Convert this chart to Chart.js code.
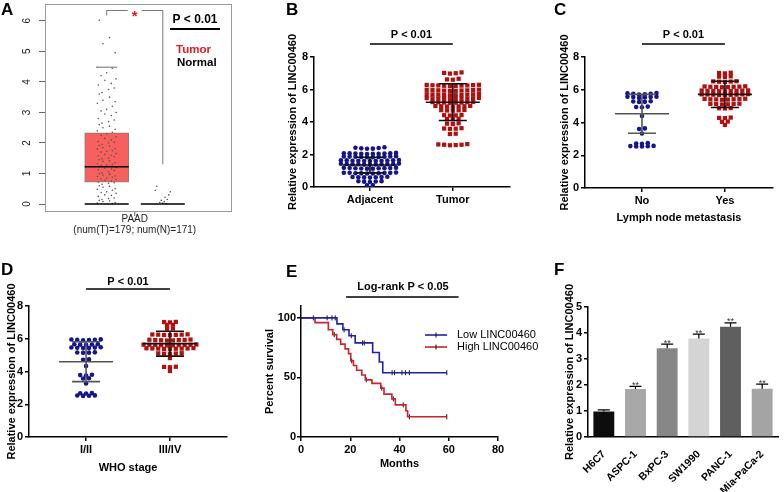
<!DOCTYPE html>
<html>
<head>
<meta charset="utf-8">
<script src="https://cdn.jsdelivr.net/npm/chart.js"></script>
<style>
  body { margin: 0; background: #fff; }
  #fig { position: relative; width: 784px; height: 492px; overflow: hidden; font-family: "Liberation Sans", Arial, sans-serif; }
  .panel { position: absolute; }
  .tag { position: absolute; font-weight: bold; font-size: 17px; line-height: 1; }
</style>
</head>
<body>
<div id="fig">
  <div class="panel" style="left:0;top:0;width:260px;height:240px"><canvas id="chartA"></canvas></div>
  <div class="panel" style="left:260px;top:0;width:260px;height:240px"><canvas id="chartB"></canvas></div>
  <div class="panel" style="left:520px;top:0;width:264px;height:240px"><canvas id="chartC"></canvas></div>
  <div class="panel" style="left:0;top:240px;width:260px;height:252px"><canvas id="chartD"></canvas></div>
  <div class="panel" style="left:260px;top:240px;width:300px;height:252px"><canvas id="chartE"></canvas></div>
  <div class="panel" style="left:520px;top:240px;width:264px;height:252px"><canvas id="chartF"></canvas></div>
  <div class="tag" style="left:1px;top:1px">A</div>
  <div class="tag" style="left:286px;top:1px">B</div>
  <div class="tag" style="left:554px;top:1px">C</div>
  <div class="tag" style="left:1px;top:261px">D</div>
  <div class="tag" style="left:286px;top:263px">E</div>
  <div class="tag" style="left:554px;top:261px">F</div>
</div>
<script>
// ---------- data ----------
// A: GEPIA box plot (PAAD)
const boxGroups = ['Tumor', 'Normal'];
const boxQ1 = [0.72, 0];
const boxMedian = [1.22, 0];
const boxQ3 = [2.33, 0];
const boxWhiskerHigh = [4.48, 0];
const boxWhiskerLow = [0, 0];
const tumorDots = [6.02, 5.45, 5.25, 4.95, 4.48, 4.45, 4.3, 4.2, 4.1, 4.05, 3.95, 3.9, 3.8, 3.75, 3.65,
  3.6, 3.5, 3.4, 3.35, 3.3, 3.2, 3.1, 3.05, 3.0, 2.95, 2.9, 2.8, 2.75, 2.7, 2.65, 2.6, 2.55, 2.5,
  2.45, 2.4, 2.35, 2.3, 2.25, 2.2, 2.15, 2.1, 2.05, 2.02, 2.0, 1.95, 1.92, 1.9, 1.85, 1.82, 1.8,
  1.75, 1.72, 1.7, 1.65, 1.62, 1.6, 1.58, 1.55, 1.5, 1.48, 1.45, 1.42, 1.4, 1.35, 1.32, 1.3, 1.28,
  1.25, 1.2, 1.18, 1.15, 1.12, 1.1, 1.05, 1.02, 1.0, 0.98, 0.95, 0.92, 0.9, 0.88, 0.85, 0.82, 0.8,
  0.78, 0.75, 0.72, 0.7, 0.68, 0.65, 0.6, 0.58, 0.55, 0.5, 0.48, 0.45, 0.4, 0.38, 0.35, 0.3, 0.28,
  0.25, 0.2, 0.18, 0.15, 0.12, 0.1, 0.08, 0.05, 0.03, 0.02];
const normalDots = [0.58, 0.45, 0.4, 0.3, 0.22, 0.15, 0.12, 0.08, 0.05, 0.03, 0.02];

// B: tissue
const namesB = ['Adjacent', 'Tumor'];
const adjacentB = [2.45, 2.42, 2.38, 2.36, 2.35, 2.4,
  2.1, 2.08, 2.06, 2.05, 2.04, 2.06, 2.08, 2.03, 2.07, 2.05,
  1.88, 1.86, 1.85, 1.84, 1.86, 1.88, 1.9, 1.85, 1.87, 1.83,
  1.64, 1.62, 1.6, 1.61, 1.63, 1.65, 1.6, 1.62, 1.64, 1.66, 1.61,
  1.42, 1.4, 1.38, 1.39, 1.41, 1.43, 1.4, 1.38, 1.42, 1.44, 1.4,
  1.17, 1.15, 1.13, 1.14, 1.16, 1.18, 1.15, 1.13, 1.17, 1.19,
  0.87, 0.85, 0.83, 0.84, 0.86, 0.88, 0.85, 0.83, 0.87, 0.89,
  0.62, 0.6, 0.58, 0.59, 0.61, 0.63, 0.6,
  0.35, 0.33, 0.31, 0.34, 0.36,
  0.12, 0.1];
const tumorB = [7.05, 7.02, 7.0, 6.98,
  6.66, 6.62, 6.6,
  6.28, 6.26, 6.25, 6.24, 6.22, 6.27, 6.25, 6.23, 6.29, 6.2,
  5.98, 5.96, 5.95, 5.94, 5.93, 5.97, 5.95, 5.92, 5.99, 5.9,
  5.7, 5.68, 5.67, 5.66, 5.69, 5.71, 5.65, 5.68, 5.72, 5.64,
  5.46, 5.44, 5.43, 5.42, 5.45, 5.47, 5.41, 5.44, 5.48, 5.4,
  5.22, 5.2, 5.19, 5.21, 5.23, 5.18, 5.24, 5.2,
  4.98, 4.96, 4.95, 4.97, 4.99, 4.94, 4.97,
  4.73, 4.71, 4.72, 4.74, 4.7,
  4.43, 4.41, 4.42, 4.4,
  4.18, 4.17, 4.2,
  3.9, 3.88, 3.92,
  3.6, 3.58, 3.62, 3.59,
  3.28, 3.26,
  2.62, 2.6, 2.58, 2.57, 2.6, 2.64];
const meansB = [1.35, 5.22];
const sdsB = [0.48, 1.13];

// C: lymph node metastasis
const namesC = ['No', 'Yes'];
const noC = [5.8, 5.78, 5.76, 5.75, 5.72, 5.7,
  5.58, 5.56, 5.55, 5.53, 5.5, 5.57,
  5.3, 5.28, 5.26, 5.25,
  4.97, 4.95, 4.93,
  4.4,
  3.64, 3.6,
  3.33,
  2.74, 2.72, 2.7,
  2.57, 2.55, 2.54, 2.56, 2.53];
const yesC = [7.04, 7.02, 7.0,
  6.82, 6.8, 6.78,
  6.52, 6.5, 6.48, 6.51, 6.49,
  6.2, 6.18, 6.17, 6.19, 6.16, 6.21, 6.18, 6.15,
  5.95, 5.93, 5.92, 5.94, 5.91, 5.96, 5.93, 5.9, 5.95,
  5.72, 5.7, 5.69, 5.71, 5.68, 5.73, 5.7, 5.67, 5.72,
  5.44, 5.42, 5.41, 5.43, 5.4, 5.45, 5.42, 5.39,
  5.14, 5.12, 5.11, 5.13, 5.1, 5.15,
  4.88, 4.86, 4.87,
  4.3, 4.28, 4.27,
  4.06, 4.04,
  3.85];
const meansC = [4.53, 5.72];
const sdsC = [1.19, 0.8];

// D: WHO stage
const namesD = ['I/II', 'III/IV'];
const earlyD = [5.95, 5.94, 5.93, 5.92, 5.96, 5.9,
  5.66, 5.65, 5.64, 5.67, 5.63,
  5.47, 5.46, 5.45, 5.48, 5.44, 5.43,
  5.16, 5.15, 5.14, 5.17,
  4.74, 4.72,
  4.33,
  3.8, 3.78, 3.76,
  3.59, 3.57,
  3.27,
  2.68, 2.67, 2.66,
  2.53, 2.52, 2.51, 2.54];
const lateD = [7.03, 7.02, 7.0,
  6.86, 6.85,
  6.63, 6.62,
  6.26, 6.25, 6.24, 6.27, 6.23, 6.25, 6.22,
  5.93, 5.92, 5.91, 5.94, 5.9, 5.95, 5.92, 5.89,
  5.63, 5.62, 5.61, 5.64, 5.6, 5.65, 5.62, 5.59, 5.63, 5.61,
  5.41, 5.4, 5.39, 5.42, 5.38, 5.43, 5.4, 5.37, 5.41,
  5.11, 5.1, 5.09, 5.12, 5.08,
  4.82,
  4.29, 4.28, 4.26,
  4.03];
const meansD = [4.6, 5.7];
const sdsD = [1.22, 0.76];

// E: Kaplan-Meier
const lowTimes = [0, 14.6, 17, 19.5, 22, 29.1, 31.8, 33.2, 59.2];
const lowSurv = [100, 95, 90, 85, 79, 71, 63, 54, 54];
const lowCensor = [5, 10.6, 12.6, 13.9, 17.5, 20.4, 25, 25.7, 37, 38, 41, 42.4, 44, 59.2];
const highTimes = [0, 5.7, 11.1, 12.9, 14.5, 16.1, 17.9, 19.3, 20.2, 21.3, 22.6, 24.7, 26.1, 28.8,
  32.4, 33.7, 36.9, 38.3, 42.6, 43.3, 59.2];
const highSurv = [100, 96, 90, 86, 82, 78, 74, 70, 64, 60, 56, 52, 48, 45, 41, 36, 32, 27, 22, 17, 17];
const highCensor = [13.5, 20.6, 26.5, 32.8, 37.5, 41.5, 44, 59.2];

// F: cell lines
const cellLines = ['H6C7', 'ASPC-1', 'BxPC-3', 'SW1990', 'PANC-1', 'Mia-PaCa-2'];
const cellValues = [0.98, 1.85, 3.41, 3.79, 4.24, 1.86];
const cellErrors = [0.06, 0.1, 0.16, 0.17, 0.15, 0.17];

// ---------- defaults ----------
Chart.defaults.font.family = "'Liberation Sans', Arial, sans-serif";
Chart.defaults.font.size = 11;
Chart.defaults.font.weight = 'bold';
Chart.defaults.color = '#000';
Chart.defaults.animation = false;
Chart.defaults.maintainAspectRatio = false;
Chart.defaults.plugins.legend.display = false;
Chart.defaults.plugins.tooltip.enabled = false;

const YTITLE = 'Relative expression of LINC00460';
const GROUP_X = [1, 2];

// fixed axis sizes so the plot area lands where it is in the figure
function fitY(w) { return s => { s.width = w; s.paddingTop = 0; s.paddingBottom = 0; }; }
function fitX(h) { return s => { s.height = h; s.paddingLeft = 0; s.paddingRight = 0; }; }

function seg(ctx, x1, y1, x2, y2) { ctx.moveTo(x1, y1); ctx.lineTo(x2, y2); }

// points of one group arranged in rows (lowest value of a row in the middle)
function swarm(values, cx, dx) {
  const rows = [];
  [...values].sort((a, b) => b - a).forEach(v => {
    const row = rows[rows.length - 1];
    if (row && row[0] - v <= 0.12) row.push(v); else rows.push([v]);
  });
  const pts = [];
  rows.forEach(row => {
    const n = row.length;
    const slots = row.map((_, i) => (i - (n - 1) / 2)).sort((a, b) => Math.abs(a) - Math.abs(b));
    [...row].sort((a, b) => a - b).forEach((v, i) => pts.push({ x: cx + slots[i] * dx, y: v }));
  });
  return pts;
}

function axisGrid() {
  return { drawOnChartArea: false, tickLength: 4, color: '#000', lineWidth: 1.5 };
}

// ---------- A ----------
const jitter = [-0.04, 0.015, -0.02, 0.045, -0.05, 0.03, 0.0, -0.03, 0.05, -0.01, 0.025, -0.045, 0.04, 0.01, -0.025];
const boxX = [0.33, 0.63];
const PAAD_X = 0.48;

new Chart(document.getElementById('chartA'), {
  type: 'scatter',
  data: {
    datasets: [
      { data: tumorDots.map((v, i) => ({ x: boxX[0] + jitter[i % jitter.length], y: v })),
        pointRadius: 0.8, backgroundColor: '#555', borderWidth: 0, order: 0 },
      { data: normalDots.map((v, i) => ({ x: boxX[1] + jitter[(i * 4) % jitter.length] * 0.8, y: v })),
        pointRadius: 0.8, backgroundColor: '#555', borderWidth: 0, order: 0 },
      { type: 'bar', data: boxGroups.map((g, i) => ({ x: boxX[i], y: [boxQ1[i], boxQ3[i]] })),
        backgroundColor: '#f8605d', borderColor: '#808080', borderWidth: 1, borderSkipped: false,
        barThickness: 44, order: 1 }
    ]
  },
  options: {
    layout: { padding: { left: 0, top: 2, right: 28, bottom: 0 } },
    scales: {
      x: { type: 'linear', min: 0, max: 1, offset: false, afterFit: fitX(28),
        afterBuildTicks: s => { s.ticks = [{ value: PAAD_X }]; },
        ticks: { callback: () => ['PAAD', '(num(T)=179; num(N)=171)'], padding: -2, color: '#222',
          font: { size: 10, weight: 'normal', lineHeight: 1.1 } },
        grid: { display: false, drawTicks: true, tickLength: 4, offset: false }, border: { display: false } },
      y: { type: 'linear', min: -0.26, max: 6.55, afterFit: fitY(45),
        afterBuildTicks: s => { s.ticks = [0, 1, 2, 3, 4, 5, 6].map(v => ({ value: v })); },
        ticks: { minRotation: 90, maxRotation: 90, crossAlign: 'center', padding: 9, color: '#222',
          font: { size: 10, weight: 'normal' } },
        grid: { drawOnChartArea: false, tickLength: 6, color: '#666' }, border: { display: false } }
    }
  },
  plugins: [{
    id: 'boxExtras',
    afterDatasetsDraw(chart) {
      const { ctx, chartArea: a, scales: { x, y } } = chart;
      ctx.save();
      ctx.strokeStyle = '#9a9a9a'; ctx.lineWidth = 1;
      ctx.strokeRect(a.left + 0.5, a.top + 0.5, a.width - 1, a.height - 1);
      // tick under the group label
      const xt = x.getPixelForValue(PAAD_X);
      ctx.strokeStyle = '#666';
      ctx.beginPath(); seg(ctx, xt, a.bottom, xt, a.bottom + 4); ctx.stroke();
      boxGroups.forEach((g, i) => {
        const cx = x.getPixelForValue(boxX[i]);
        ctx.strokeStyle = '#000'; ctx.lineWidth = 1.6;
        ctx.beginPath();
        seg(ctx, cx - 22, y.getPixelForValue(boxMedian[i]), cx + 22, y.getPixelForValue(boxMedian[i]));
        seg(ctx, cx - 22, y.getPixelForValue(boxWhiskerLow[i]), cx + 22, y.getPixelForValue(boxWhiskerLow[i]));
        ctx.stroke();
        if (boxWhiskerHigh[i] > boxQ3[i]) {
          ctx.strokeStyle = '#888'; ctx.lineWidth = 1.2;
          ctx.beginPath();
          seg(ctx, cx - 10.5, y.getPixelForValue(boxWhiskerHigh[i]), cx + 10.5, y.getPixelForValue(boxWhiskerHigh[i]));
          ctx.stroke();
        }
      });
      // significance bracket
      const x1 = x.getPixelForValue(boxX[0]), x2 = x.getPixelForValue(boxX[1]);
      const yb = a.top + 6.5;
      ctx.strokeStyle = '#777'; ctx.lineWidth = 1;
      ctx.beginPath();
      seg(ctx, x1, yb + 5, x1, yb); ctx.lineTo(xt - 7, yb);
      seg(ctx, xt + 7, yb, x2, yb); ctx.lineTo(x2, y.getPixelForValue(1.3));
      ctx.stroke();
      ctx.fillStyle = '#e8191c'; ctx.font = 'bold 15px "Liberation Sans", Arial';
      ctx.textAlign = 'center'; ctx.textBaseline = 'alphabetic';
      ctx.fillText('*', xt, yb + 10);
      // p value and group key
      ctx.fillStyle = '#000'; ctx.font = 'bold 12px "Liberation Sans", Arial';
      ctx.textBaseline = 'middle';
      ctx.fillText('P < 0.01', 195, 20);
      ctx.strokeStyle = '#000'; ctx.lineWidth = 2;
      ctx.beginPath(); seg(ctx, 170, 29, 220, 29); ctx.stroke();
      ctx.textAlign = 'left'; ctx.font = 'bold 11.5px "Liberation Sans", Arial';
      ctx.fillStyle = '#e8191c'; ctx.fillText(boxGroups[0], 176, 50);
      ctx.fillStyle = '#000'; ctx.fillText(boxGroups[1], 177, 63);
      ctx.restore();
    }
  }]
});

// ---------- B, C, D ----------
function dotChart(id, o) {
  const [w, h] = o.size;
  const [L, T, R, B] = o.area;
  const looks = [
    { pointStyle: 'circle', pointRadius: 2.3, backgroundColor: '#16168a' },
    { pointStyle: 'rect', pointRadius: 3.0, backgroundColor: '#b01010' }
  ];
  new Chart(document.getElementById(id), {
    type: 'scatter',
    data: {
      datasets: o.groups.map((vals, i) => Object.assign({
        data: swarm(vals, GROUP_X[i], 0.07), borderWidth: 0
      }, looks[i]))
    },
    options: {
      layout: { padding: { left: 0, top: T, right: w - R, bottom: 0 } },
      scales: {
        x: { type: 'linear', min: o.xRange[0], max: o.xRange[1], afterFit: fitX(h - B),
          afterBuildTicks: s => { s.ticks = GROUP_X.map(v => ({ value: v })); },
          ticks: { callback: v => o.names[GROUP_X.indexOf(v)], padding: 2 },
          grid: axisGrid(), border: { color: '#000', width: 1.5 },
          title: o.xTitle ? { display: true, text: o.xTitle, padding: { top: 0, bottom: o.xTitlePad } } : { display: false } },
        y: { min: 0, max: 8, afterFit: fitY(L),
          ticks: { stepSize: 2, padding: 2 },
          grid: axisGrid(), border: { color: '#000', width: 1.5 },
          title: { display: true, text: YTITLE, padding: { top: o.yTitlePad, bottom: 0 } } }
      }
    },
    plugins: [{
      id: 'meanSd',
      afterDatasetsDraw(chart) {
        const { ctx, scales: { x, y } } = chart;
        ctx.save(); ctx.lineWidth = 1.6;
        o.means.forEach((m, i) => {
          const cx = x.getPixelForValue(GROUP_X[i]);
          const ym = y.getPixelForValue(m);
          const yt = y.getPixelForValue(m + o.sds[i]), yl = y.getPixelForValue(m - o.sds[i]);
          ctx.strokeStyle = o.barColors[i];
          ctx.beginPath();
          seg(ctx, cx - 27, ym, cx + 27, ym);
          seg(ctx, cx, yt, cx, yl);
          seg(ctx, cx - 14, yt, cx + 14, yt);
          seg(ctx, cx - 14, yl, cx + 14, yl);
          ctx.stroke();
        });
        ctx.restore();
      }
    }, {
      id: 'pLine',
      afterDraw(chart) {
        const { ctx, chartArea: a, scales: { x } } = chart;
        const x1 = x.getPixelForValue(GROUP_X[0]), x2 = x.getPixelForValue(GROUP_X[1]);
        ctx.save();
        ctx.font = 'bold 11px "Liberation Sans", Arial'; ctx.fillStyle = '#000';
        ctx.textAlign = 'center'; ctx.textBaseline = 'middle';
        ctx.fillText('P < 0.01', (x1 + x2) / 2, a.top - o.pGap[0]);
        ctx.strokeStyle = '#000'; ctx.lineWidth = 1.5;
        ctx.beginPath(); seg(ctx, x1, a.top - o.pGap[1], x2, a.top - o.pGap[1]); ctx.stroke();
        ctx.restore();
      }
    }]
  });
}

dotChart('chartB', { size: [260, 240], area: [54, 57, 250, 187], xRange: [0.325, 2.69],
  names: namesB, groups: [adjacentB, tumorB], means: meansB, sds: sdsB, barColors: ['#111', '#111'],
  yTitlePad: 26.4, pGap: [22, 13] });
dotChart('chartC', { size: [264, 240], area: [65, 57, 253, 188], xRange: [0.313, 2.58],
  names: namesC, groups: [noC, yesC], means: meansC, sds: sdsC, barColors: ['#555', '#111'],
  yTitlePad: 38.4, xTitle: 'Lymph node metastasis', xTitlePad: 15.4, pGap: [22, 13] });
dotChart('chartD', { size: [260, 252], area: [29, 66, 227, 197], xRange: [0.32, 2.68],
  names: namesD, groups: [earlyD, lateD], means: meansD, sds: sdsD, barColors: ['#555', '#111'],
  yTitlePad: 5.4, xTitle: 'WHO stage', xTitlePad: 17.4, pGap: [24, 17] });

// ---------- E ----------
function survivalAt(t, times, surv) {
  let s = surv[0];
  times.forEach((tt, i) => { if (tt <= t) s = surv[i]; });
  return s;
}
const kmLow = lowTimes.map((t, i) => ({ x: t, y: lowSurv[i] }));
const kmHigh = highTimes.map((t, i) => ({ x: t, y: highSurv[i] }));
const LOW_COLOR = '#1f22a6', HIGH_COLOR = '#c8262b';

new Chart(document.getElementById('chartE'), {
  type: 'line',
  data: {
    datasets: [
      { label: 'Low LINC00460', data: kmLow, stepped: true, borderColor: LOW_COLOR, borderWidth: 1.6, pointRadius: 0, fill: false },
      { label: 'High LINC00460', data: kmHigh, stepped: true, borderColor: HIGH_COLOR, borderWidth: 1.6, pointRadius: 0, fill: false },
      { type: 'scatter', data: lowCensor.map(t => ({ x: t, y: survivalAt(t, lowTimes, lowSurv) })),
        pointStyle: 'line', rotation: 90, pointRadius: 2.5, borderColor: '#111', borderWidth: 1 },
      { type: 'scatter', data: highCensor.map(t => ({ x: t, y: survivalAt(t, highTimes, highSurv) })),
        pointStyle: 'line', rotation: 90, pointRadius: 2.5, borderColor: '#111', borderWidth: 1 }
    ]
  },
  options: {
    layout: { padding: { left: 0, top: 66, right: 62, bottom: 0 } },
    scales: {
      x: { type: 'linear', min: 0, max: 80, afterFit: fitX(55),
        ticks: { stepSize: 20, padding: 2 }, grid: axisGrid(), border: { color: '#000', width: 1.5 },
        title: { display: true, text: 'Months', padding: { top: 0, bottom: 21.4 } } },
      y: { min: 0, max: 110, afterFit: fitY(41),
        afterBuildTicks: s => { s.ticks = [0, 50, 100].map(v => ({ value: v })); },
        ticks: { padding: 1 }, grid: axisGrid(), border: { color: '#000', width: 1.5 },
        title: { display: true, text: 'Percent survival', padding: { top: 3.4, bottom: 0 } } }
    }
  },
  plugins: [{
    id: 'kmNotes',
    afterDraw(chart) {
      const { ctx, chartArea: a, scales: { x } } = chart;
      ctx.save();
      ctx.font = 'bold 11px "Liberation Sans", Arial'; ctx.fillStyle = '#000';
      ctx.textAlign = 'center'; ctx.textBaseline = 'middle';
      ctx.fillText('Log-rank P < 0.05', 143, a.top - 19);
      ctx.strokeStyle = '#000'; ctx.lineWidth = 1.5;
      ctx.beginPath(); seg(ctx, x.getPixelForValue(18.3), a.top - 9, x.getPixelForValue(64), a.top - 9); ctx.stroke();
      // legend
      const items = [[chart.data.datasets[0].label, LOW_COLOR, 95], [chart.data.datasets[1].label, HIGH_COLOR, 107]];
      ctx.font = '11px "Liberation Sans", Arial'; ctx.textAlign = 'left';
      items.forEach(([label, color, yy]) => {
        ctx.strokeStyle = color; ctx.lineWidth = 1.6;
        ctx.beginPath(); seg(ctx, 165, yy, 187, yy); ctx.stroke();
        ctx.strokeStyle = '#111'; ctx.lineWidth = 1;
        ctx.beginPath(); seg(ctx, 176, yy - 2.5, 176, yy + 2.5); ctx.stroke();
        ctx.fillStyle = '#000'; ctx.fillText(label, 197, yy);
      });
      ctx.restore();
    }
  }]
});

// ---------- F ----------
const cellColors = ['#0d0d0d', '#a8a8a8', '#878787', '#d4d4d4', '#5f5f5f', '#a4a4a4'];

new Chart(document.getElementById('chartF'), {
  type: 'bar',
  data: {
    labels: cellLines,
    datasets: [{ data: cellValues, backgroundColor: cellColors, barPercentage: 0.66, categoryPercentage: 1 }]
  },
  options: {
    layout: { padding: { left: 0, top: 67, right: 6, bottom: 0 } },
    scales: {
      x: { afterFit: fitX(55),
        ticks: { minRotation: 45, maxRotation: 45, padding: 3, font: { size: 10.5, weight: 'bold' } },
        grid: { display: false }, border: { color: '#000', width: 1.5 } },
      y: { min: 0, max: 5, afterFit: fitY(68),
        ticks: { stepSize: 1, padding: 2 }, grid: axisGrid(), border: { color: '#000', width: 1.5 },
        title: { display: true, text: YTITLE, padding: { top: 43.4, bottom: 0 } } }
    }
  },
  plugins: [{
    id: 'barErrors',
    afterDatasetsDraw(chart) {
      const { ctx, scales: { y } } = chart;
      ctx.save();
      ctx.strokeStyle = '#000'; ctx.lineWidth = 1.2;
      ctx.fillStyle = '#333'; ctx.font = '9px "Liberation Sans", Arial';
      ctx.textAlign = 'center'; ctx.textBaseline = 'alphabetic';
      chart.getDatasetMeta(0).data.forEach((bar, i) => {
        const top = y.getPixelForValue(cellValues[i] + cellErrors[i]);
        ctx.beginPath();
        seg(ctx, bar.x, bar.y, bar.x, top);
        seg(ctx, bar.x - 6, top, bar.x + 6, top);
        ctx.stroke();
        if (i > 0) ctx.fillText('**', bar.x, top + 1.5);
      });
      ctx.restore();
    }
  }]
});
</script>
</body>
</html>
